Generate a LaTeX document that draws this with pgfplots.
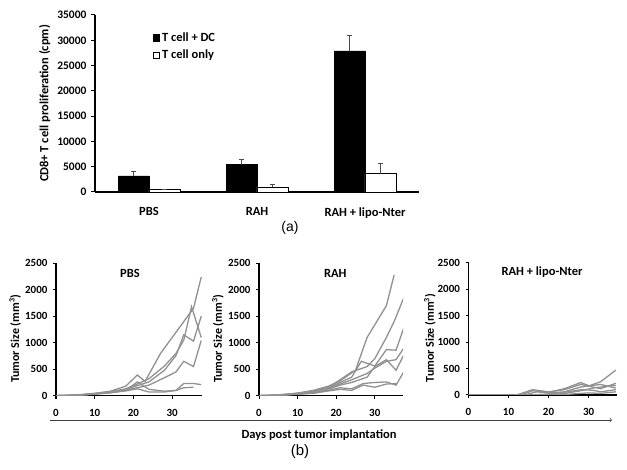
\documentclass[border=0pt]{standalone}
\usepackage{fontspec}
\setmainfont{Carlito}
\newfontfamily\arialfont{Liberation Sans}
\usepackage{pgfplots}
\pgfplotsset{compat=1.18}
\definecolor{linegray}{RGB}{145,145,145}
\pgfplotsset{
  tl/.style={linegray, line width=1.3pt, mark=none},
  tumor/.style={
    scale only axis, height=132.4pt,
    xmin=0, ymin=0, ymax=2500,
    axis x line*=bottom, axis y line*=left,
    axis line style={-, line width=1.4pt},
    xtick={0,10,20,30}, ytick={0,500,...,2500},
    tick align=outside, major tick length=3pt,
    tick style={black, line width=1pt},
    tick label style={font=\bfseries\fontsize{11}{12}\selectfont},
    xticklabel style={yshift=-7pt},
    yticklabel style={xshift=-2pt},
    /pgf/number format/assume math mode=true,
    /pgf/number format/1000 sep={},
    scaled y ticks=false,
    ylabel={Tumor Size (mm\textsuperscript{3})},
    ylabel style={font=\bfseries\fontsize{12}{13}\selectfont, anchor=center},
  }
}
\begin{document}
\begin{tikzpicture}[x=1pt,y=1pt]
\path[use as bounding box] (0,0) rectangle (627,469);

% ---------------- (a) ----------------
\begin{axis}[
  at={(95pt,277pt)}, anchor=south west,
  scale only axis, width=324pt, height=177pt,
  xmin=-0.5, xmax=2.5, ymin=0, ymax=35000,
  axis x line*=bottom, axis y line*=left,
  axis line style={-, line width=1.3pt},
  xtick={0,1,2}, xticklabels={PBS,RAH,RAH + lipo-Nter},
  x tick style={draw=none},
  ytick={0,5000,...,35000},
  tick align=outside, major tick length=4pt,
  y tick style={black, line width=1pt},
  tick label style={font=\bfseries\fontsize{11.5}{12}\selectfont},
  yticklabel style={xshift=-1pt},
  xticklabel style={font=\bfseries\fontsize{12.5}{13}\selectfont, yshift=-8pt},
  /pgf/number format/assume math mode=true,
  /pgf/number format/1000 sep={},
  scaled y ticks=false,
  ylabel={CD8+ T cell proliferation (cpm)},
  ylabel style={font=\bfseries\fontsize{12.5}{13}\selectfont, at={(axis description cs:-0.155,0.5)}, anchor=center},
  legend style={at={(axis description cs:0.178,0.912)}, anchor=north west, draw=none, fill=none,
    font=\bfseries\fontsize{12.5}{13}\selectfont, row sep=3pt, inner sep=0pt},
  legend cell align=left,
  legend image code/.code={\draw[#1,line width=0.8pt,draw=black] (0pt,-3.2pt) rectangle (6.4pt,3.2pt);},
]
\addplot[ybar, bar width=31pt, bar shift=0pt, fill=black, draw=black,
  error bars/.cd, y dir=plus, y explicit,
  error bar style={black!70, line width=1pt},
  error mark options={black!70, rotate=90, mark size=2.5pt, line width=1pt}]
  coordinates {(-0.1435,3200) +- (0,850) (0.8565,5400) +- (0,1100) (1.8565,27900) +- (0,3100)};
\addplot[ybar, bar width=31pt, bar shift=0pt, fill=white, draw=black, line width=0.8pt,
  error bars/.cd, y dir=plus, y explicit,
  error bar style={black!70, line width=1pt},
  error mark options={black!70, rotate=90, mark size=2.5pt, line width=1pt}]
  coordinates {(0.1435,420) +- (0,0) (1.1435,1000) +- (0,400) (2.1435,3600) +- (0,1950)};
\legend{T cell + DC, T cell only}
\end{axis}
\node[font=\arialfont\fontsize{14}{15}\selectfont] at (290,241) {(a)};

% ---------------- (b) PBS ----------------
\begin{axis}[tumor, at={(56pt,73.3pt)}, anchor=south west, width=146pt, xmax=37.7,
  ylabel style={at={(axis description cs:-0.28,0.43)}}]
\addplot[tl] coordinates {(0,0) (4,10) (7,25) (10,45) (14,85) (18,180) (21,390) (23,270) (27,800) (30,1100) (35.5,1650) (37.5,2240)};
\addplot[tl] coordinates {(0,0) (4,8) (7,20) (10,40) (14,75) (18,130) (21,220) (24,320) (28,560) (31,800) (33,1050) (35,1680) (37.5,1100)};
\addplot[tl] coordinates {(0,0) (4,8) (7,20) (10,38) (14,70) (18,120) (21,190) (24,260) (28,480) (31,760) (33,1150) (35.5,1030) (37.5,1500)};
\addplot[tl] coordinates {(0,0) (4,7) (7,18) (10,35) (14,65) (18,110) (21,150) (24,200) (28,340) (31,450) (33,650) (35.5,550) (37.5,1040)};
\addplot[tl] coordinates {(0,0) (4,6) (7,15) (10,30) (14,55) (18,100) (21,260) (24,120) (28,85) (31,100) (33,230) (35.5,230) (37.5,210)};
\addplot[tl] coordinates {(0,0) (4,6) (7,15) (10,30) (14,55) (18,90) (21,130) (24,70) (28,70) (31,100) (33,150) (35.5,160)};
\node[font=\bfseries\fontsize{12.5}{13}\selectfont] at (axis description cs:0.507,0.927) {PBS};
\end{axis}

% ---------------- (b) RAH ----------------
\begin{axis}[tumor, at={(259pt,73.3pt)}, anchor=south west, width=144pt, xmax=37.3,
  ylabel style={at={(axis description cs:-0.285,0.43)}}]
\addplot[tl] coordinates {(0,0) (4,10) (7,28) (10,50) (14,100) (18,180) (21,280) (25,480) (28,1100) (33,1700) (35,2280)};
\addplot[tl] coordinates {(0,0) (4,9) (7,25) (10,45) (14,90) (18,160) (21,300) (24,450) (28,550) (30,700) (33,1100) (35,1400) (37.5,1850)};
\addplot[tl] coordinates {(0,0) (4,8) (7,22) (10,42) (14,80) (18,150) (21,250) (24,350) (26.5,650) (30,560) (33,870) (35.5,860) (37.5,1280)};
\addplot[tl] coordinates {(0,0) (4,7) (7,20) (10,40) (14,70) (18,140) (21,220) (24,300) (28,420) (30,520) (33,650) (35.5,680) (37.5,900)};
\addplot[tl] coordinates {(0,0) (4,7) (7,18) (10,35) (14,60) (18,120) (21,200) (24,250) (28,350) (30,550) (33,680) (35.5,480) (37.5,770)};
\addplot[tl] coordinates {(0,0) (4,6) (7,15) (10,30) (14,50) (18,100) (21,150) (24,130) (27,230) (30,250) (33,260) (35.5,200) (37.5,450)};
\addplot[tl] coordinates {(0,0) (4,6) (7,14) (10,28) (14,45) (18,90) (21,120) (24,100) (27,200) (30,160) (33,220) (35.5,230)};
\node[font=\bfseries\fontsize{12.5}{13}\selectfont] at (axis description cs:0.53,0.927) {RAH};
\end{axis}

% ---------------- (b) RAH + lipo-Nter ----------------
\begin{axis}[tumor, at={(468.5pt,74pt)}, anchor=south west, width=148.5pt, xmax=37.1,
  ylabel style={at={(axis description cs:-0.26,0.43)}}]
\addplot[tl] coordinates {(0,0) (12,0) (16,100) (20,60) (24,100) (28,200) (30,170) (33,250) (36.8,470)};
\addplot[tl] coordinates {(0,0) (13,0) (16,80) (20,50) (24,120) (28,235) (31,150) (33,120) (36.8,220)};
\addplot[tl] coordinates {(0,0) (14,0) (17,60) (20,40) (24,60) (28,150) (31,180) (33,200) (36.8,130)};
\addplot[tl] coordinates {(0,0) (15,0) (20,20) (24,50) (28,100) (31,90) (33,60) (36.8,100)};
\addplot[tl] coordinates {(0,0) (20,0) (24,30) (28,80) (31,130) (33,150) (36.8,180)};
\addplot[tl] coordinates {(0,0) (22,0) (26,20) (30,40) (33,30) (36.8,60)};
\node[font=\bfseries\fontsize{12.5}{13}\selectfont] at (axis description cs:0.495,0.927) {RAH + lipo-Nter};
\end{axis}

\draw[->, line width=0.7pt, black!75] (50,49) -- (612,49);
\node[font=\bfseries\fontsize{12.5}{13}\selectfont] at (319,34) {Days post tumor implantation};
\node[font=\arialfont\fontsize{15}{16}\selectfont] at (300,17) {(b)};
\end{tikzpicture}
\end{document}
